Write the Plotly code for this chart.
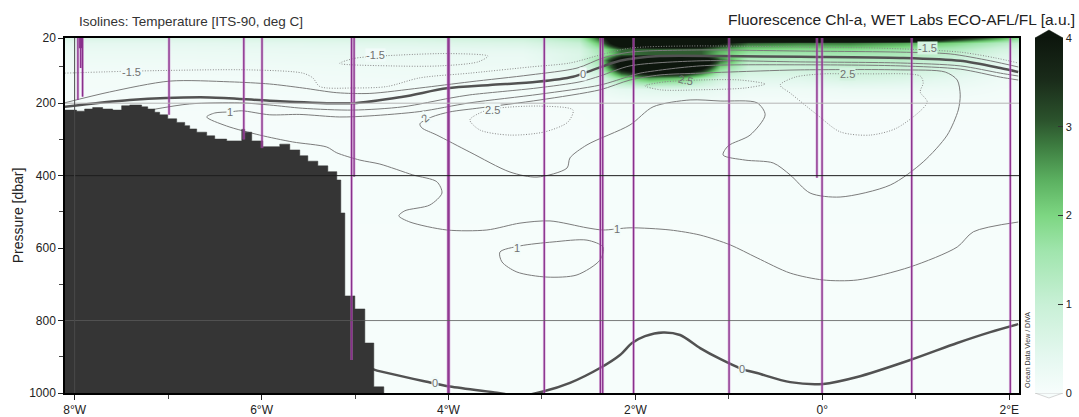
import plotly.graph_objects as go

# ---------------- data ----------------
# Fluorescence Chl-a field [a.u.] on a coarse section grid
FL_LON = [-8.1, -6.7, -4.5, -3.2, -2.6, -2.4, -2.15, -1.85, -1.5, -1.3, -1.1, -0.8, -0.25, 0.3, 0.85, 1.4, 1.9, 2.1]
FL_P = [20, 35, 50, 65, 80, 100, 130, 160, 200, 300, 1000]
FL_Z = [
    [0.60, 0.60, 0.70, 0.90, 1.40, 3.00, 6.00, 7.00, 7.00, 7.00, 7.00, 7.00, 7.00, 7.00, 6.50, 4.00, 2.50, 1.80],
    [0.40, 0.40, 0.50, 0.60, 1.00, 2.20, 5.50, 6.00, 6.00, 5.50, 4.00, 3.00, 2.80, 2.80, 2.50, 2.00, 1.30, 1.00],
    [0.30, 0.30, 0.35, 0.40, 0.70, 1.50, 3.00, 3.00, 3.00, 3.00, 2.50, 2.00, 1.90, 1.90, 1.70, 1.40, 0.80, 0.60],
    [0.25, 0.25, 0.30, 0.30, 0.60, 1.30, 2.80, 3.00, 3.00, 3.00, 2.20, 1.60, 1.50, 1.50, 1.40, 1.10, 0.60, 0.50],
    [0.20, 0.20, 0.25, 0.25, 0.60, 1.60, 5.00, 6.50, 6.50, 5.50, 3.00, 1.30, 1.20, 1.30, 1.20, 0.90, 0.45, 0.35],
    [0.15, 0.15, 0.20, 0.20, 0.50, 1.20, 4.50, 6.00, 6.00, 4.50, 2.00, 0.90, 0.90, 1.10, 1.00, 0.70, 0.35, 0.25],
    [0.10, 0.10, 0.15, 0.15, 0.30, 0.50, 1.80, 2.50, 2.20, 1.50, 0.80, 0.50, 0.50, 0.70, 0.60, 0.40, 0.20, 0.15],
    [0.08, 0.08, 0.10, 0.10, 0.15, 0.25, 0.40, 0.50, 0.50, 0.40, 0.30, 0.20, 0.20, 0.25, 0.25, 0.20, 0.12, 0.10],
    [0.06, 0.06, 0.06, 0.06, 0.06, 0.08, 0.10, 0.10, 0.10, 0.10, 0.08, 0.06, 0.06, 0.06, 0.06, 0.06, 0.06, 0.06],
    [0.04] * 18,
    [0.02] * 18,
]

# Bottom topography: left edge of each step [deg lon] and its top [dbar]
BATHY_LON = [-8.12, -7.979, -7.893, -7.807, -7.700, -7.593, -7.497, -7.411, -7.283, -7.218, -7.143,
             -7.090, -7.004, -6.908, -6.822, -6.769, -6.694, -6.587, -6.501, -6.373, -6.212, -6.180,
             -6.105, -5.987, -5.805, -5.698, -5.591, -5.505, -5.398, -5.291, -5.195, -5.152, -5.109,
             -5.002, -4.895, -4.799, -4.692]
BATHY_P = [219, 222, 216, 212, 216, 219, 207, 205, 210, 216, 225,
           232, 243, 253, 262, 271, 280, 290, 299, 304, 272, 280,
           304, 320, 313, 329, 345, 360, 373, 389, 412, 503, 732,
           768, 862, 983, 1000]

# CTD stations: longitude and deepest pressure of each cast
STATION_LON = [-7.965, -7.945, -7.935, -7.925, -7.915, -6.99, -6.19, -5.995, -5.037, -5.010,
               -4.005, -3.995, -2.975, -2.375, -2.350, -2.020, -0.998, -0.058, -0.003, 0.956, 2.011]
STATION_PMAX = [191, 48, 103, 48, 182, 232, 300, 324, 909, 403,
                1000, 1000, 1000, 1000, 1000, 1000, 1000, 406, 1000, 1000, 1000]

# Temperature isolines [deg C] traced from the section
ISO_M15_LON = [-8.107, -7.304, -6.126, -5.559, -5.452, -5.377, -5.023, -4.659, -4.306, -3.771, -3.128,
               -2.700, -2.379, -2.058, -1.415, -0.238, 0.619, 1.475, 1.850, 2.096]
ISO_M15_P = [117, 111, 108, 117, 130, 154, 158, 154, 130, 117, 100, 89, 67, 48, 42, 45, 48, 59, 75, 89]
ISO_M15_LOOP_LON = [-5.163, -5.002, -4.520, -3.985, -3.578, -3.685, -4.092, -4.627, -5.163]
ISO_M15_LOOP_P = [90, 76, 67, 63, 70, 86, 97, 97, 90]

ISO_M10_LON = [-8.107, -7.625, -6.983, -6.340, -5.912, -5.559, -5.195, -4.841, -4.306, -3.771, -3.128,
               -2.625, -2.347, -2.058, -1.308, -0.238, 0.833, 1.368, 1.797, 2.096]
ISO_M10_P = [199, 169, 139, 141, 147, 158, 171, 173, 158, 141, 122, 103, 75, 59, 53, 56, 59, 64, 83, 100]

ISO_0_LON = [-8.107, -7.411, -6.555, -5.912, -5.023, -4.488, -4.017, -3.557, -3.053, -2.668, -2.454,
             -2.165, -1.736, -1.094, -0.238, 0.833, 1.475, 1.904, 2.096]
ISO_0_P = [210, 191, 184, 193, 200, 182, 159, 150, 141, 127, 108, 83, 70, 70, 72, 75, 83, 103, 114]

ISO_0_DEEP_LON = [-4.863, -4.788, -4.231, -3.985, -3.482, -3.235, -2.989, -2.700, -2.379, -2.165, -2.036,
                  -1.897, -1.704, -1.522, -1.308, -1.094, -0.858, -0.698, -0.344, 0.009, 0.373, 0.940,
                  1.443, 1.797, 2.096]
ISO_0_DEEP_P = [928, 936, 969, 982, 999, 1008, 996, 972, 931, 895, 862, 843, 833, 840, 876, 906, 934,
                945, 970, 975, 956, 909, 862, 832, 810]

ISO_05_LON = [-7.197, -6.769, -6.233, -5.912, -5.559, -5.023, -4.488, -3.985, -3.771, -3.053, -2.593,
              -2.379, -2.058, -1.308, -0.238, 0.833, 1.475, 1.904, 2.096]
ISO_05_P = [219, 202, 199, 205, 214, 219, 210, 186, 177, 158, 141, 125, 97, 83, 86, 89, 97, 117, 125]

ISO_1_LON = [2.096, 1.615, 1.443, 0.940, 0.373, 0.009, -0.344, -0.698, -0.987, -1.308, -1.629, -2.058,
             -2.347, -2.518, -2.914, -3.235, -3.589, -4.017, -4.413, -4.531, -4.467, -4.199, -4.070,
             -4.124, -4.381, -4.734, -4.948, -5.195, -5.302, -5.666, -6.019, -6.373, -6.587,
             -6.501, -6.340, -6.212, -5.912, -5.591, -5.163, -4.841, -4.306, -3.771, -3.021, -2.379,
             -2.058, -1.950, -1.308, -0.238, 0.833, 1.475, 1.904, 2.096]
ISO_1_P = [528, 555, 597, 652, 688, 688, 669, 627, 591, 564, 550, 544,
           550, 544, 525, 531, 550, 550, 528, 511, 497, 481, 448,
           417, 398, 368, 357, 337, 321, 307, 288, 263, 238,
           227, 224, 221, 232, 231, 238, 235, 223, 199, 175, 150,
           125, 117, 97, 94, 97, 106, 128, 136]
ISO_1_LOOP_LON = [-3.450, -3.235, -2.882, -2.518, -2.347, -2.379, -2.625, -2.946, -3.268, -3.428, -3.450]
ISO_1_LOOP_P = [611, 594, 583, 578, 597, 633, 674, 680, 666, 638, 611]

ISO_2_LON = [-4.306, -4.178, -3.985, -3.664, -3.021, -2.379, -2.058, -1.736, -1.308, -0.666, -0.238,
             0.833, 1.315, 1.443, 1.475, 1.454, 1.336, 1.079, 0.726, 0.190, -0.131, -0.344, -0.526,
             -0.826, -1.062, -1.008, -0.773, -0.612, -0.698, -1.094, -1.415, -1.811, -2.058, -2.518,
             -2.700, -2.732, -3.053, -3.342, -3.771, -4.124, -4.285, -4.306]
ISO_2_P = [257, 238, 224, 213, 191, 163, 136, 122, 117, 111, 108,
           108, 114, 136, 177, 219, 288, 362, 426, 459, 448, 398, 365,
           357, 343, 318, 288, 232, 199, 194, 191, 210, 260, 315,
           351, 379, 404, 390, 335, 288, 268, 257]

ISO_25_W_LON = [-3.771, -3.610, -3.450, -3.021, -2.668, -2.722, -2.968, -3.343, -3.664, -3.771]
ISO_25_W_P = [246, 221, 213, 208, 219, 252, 279, 288, 274, 246]
ISO_25_C_LON = [-1.897, -1.683, -1.308, -0.880, -0.612, -0.826, -1.308, -1.736, -1.897]
ISO_25_C_P = [152, 141, 136, 136, 147, 158, 163, 163, 152]
ISO_25_E_LON = [0.009, 0.266, 0.512, 1.047, 1.079, 1.047, 1.122, 0.801, 0.512, 0.190, -0.055, -0.344,
                -0.452, -0.291, 0.009]
ISO_25_E_P = [119, 119, 119, 125, 144, 169, 197, 268, 288, 279, 232, 172, 150, 128, 119]

X_TICK_LON = [-8, -6, -4, -2, 0, 2]
X_TICK_TEXT = ["8°W", "6°W", "4°W", "2°W", "0°", "2°E"]
Y_TICKS = [20, 200, 400, 600, 800, 1000]
Y_MINOR = [100, 300, 500, 700, 900]
CB_TICKS = [0, 1, 2, 3, 4]

# ---------------- styles ----------------
FONT = "Liberation Sans, Arial, sans-serif"
BG = "#f1fbf9"
COLORSCALE = [
    [0.00, "#f7fdfc"],
    [0.10, "#e5f8f0"],
    [0.25, "#c8f0d6"],
    [0.40, "#a0e5ad"],
    [0.50, "#7dd682"],
    [0.60, "#5bb060"],
    [0.70, "#3c7a3f"],
    [0.77, "#2b522c"],
    [0.88, "#1a2c1a"],
    [1.00, "#0d160d"],
]
THIN = dict(color="#7c7c7c", width=1.0)
THICK = dict(color="#525252", width=2.5)
DOTTED = dict(color="#8a8a8a", width=1.0, dash="1px,1.6px")

fig = go.Figure()

fig.add_trace(go.Heatmap(
    x=FL_LON, y=FL_P, z=FL_Z, zmin=0, zmax=4, zsmooth="best",
    colorscale=COLORSCALE, hoverinfo="skip",
    colorbar=dict(
        x=1.0168, xanchor="left", y=0.5, yanchor="middle",
        len=1.0, lenmode="fraction", thickness=28, thicknessmode="pixels",
        xpad=0, ypad=0, outlinewidth=0,
        tickvals=CB_TICKS, ticks="inside", ticklen=5, tickcolor="#333",
        tickfont=dict(family=FONT, size=11, color="#222"),
    ),
))

isolines = [
    (ISO_M15_LON, ISO_M15_P, DOTTED),
    (ISO_M15_LOOP_LON, ISO_M15_LOOP_P, DOTTED),
    (ISO_M10_LON, ISO_M10_P, THIN),
    (ISO_0_LON, ISO_0_P, THICK),
    (ISO_0_DEEP_LON, ISO_0_DEEP_P, THICK),
    (ISO_05_LON, ISO_05_P, THIN),
    (ISO_1_LON, ISO_1_P, THIN),
    (ISO_1_LOOP_LON, ISO_1_LOOP_P, THIN),
    (ISO_2_LON, ISO_2_P, THIN),
    (ISO_25_W_LON, ISO_25_W_P, DOTTED),
    (ISO_25_C_LON, ISO_25_C_P, DOTTED),
    (ISO_25_E_LON, ISO_25_E_P, DOTTED),
]
for lx, ly, st in isolines:
    fig.add_trace(go.Scatter(
        x=lx, y=ly, mode="lines", hoverinfo="skip", showlegend=False,
        line=dict(shape="spline", smoothing=0.8, **st),
    ))

# bathymetry
fig.add_trace(go.Scatter(
    x=BATHY_LON + [BATHY_LON[0]], y=BATHY_P + [1000],
    mode="lines", fill="toself", fillcolor="#353535",
    line=dict(color="#353535", width=0.5, shape="hv"),
    hoverinfo="skip", showlegend=False,
))

# station lines
sx, sy = [], []
for lon, pm in zip(STATION_LON, STATION_PMAX):
    sx += [lon, lon, None]
    sy += [20, pm, None]
fig.add_trace(go.Scatter(x=sx, y=sy, mode="lines", hoverinfo="skip", showlegend=False,
                         line=dict(color="rgba(200,120,200,0.5)", width=2.8)))
fig.add_trace(go.Scatter(x=sx, y=sy, mode="lines", hoverinfo="skip", showlegend=False,
                         line=dict(color="#88308b", width=1.3)))

# isoline labels (lon, p, text, background, angle)
LABELS = [
    (-7.39, 114, "-1.5", BG, 0), (-4.777, 67, "-1.5", BG, 0), (1.122, 48, "-1.5", "#d6f3e2", 0),
    (-2.561, 120, "0", BG, 0), (-4.146, 972, "0", BG, 0), (-0.858, 934, "0", BG, 0),
    (-6.340, 224, "1", BG, 0), (-2.197, 547, "1", BG, 0), (-3.268, 600, "1", BG, 0),
    (-4.253, 241, "2", BG, -40), (-3.525, 219, "2.5", BG, 0), (-1.469, 137, "2.5", None, 12),
    (0.266, 119, "2.5", "#d3f2df", 0),
]
annotations = []
for lon, p, txt, bg, ang in LABELS:
    a = dict(x=lon, y=p, xref="x", yref="y", text=txt, showarrow=False, textangle=ang,
             font=dict(family=FONT, size=11, color="#707070"), borderpad=0)
    if bg:
        a["bgcolor"] = bg
    annotations.append(a)

annotations += [
    dict(x=0.0126, y=1.046, xref="paper", yref="paper", xanchor="left", yanchor="middle",
         text="Isolines: Temperature [ITS-90, deg C]", showarrow=False,
         font=dict(family=FONT, size=13.5, color="#333")),
    dict(x=1.0608, y=1.052, xref="paper", yref="paper", xanchor="right", yanchor="middle",
         text="Fluorescence Chl-a, WET Labs ECO-AFL/FL [a.u.]", showarrow=False,
         font=dict(family=FONT, size=15.5, color="#222")),
    dict(x=1.0084, y=0.121, xref="paper", yref="paper", xanchor="center", yanchor="middle",
         text="Ocean Data View / DIVA", showarrow=False, textangle=-90,
         font=dict(family=FONT, size=7, color="#333")),
]

shapes = [
    dict(type="line", xref="paper", yref="y", x0=0, x1=1, y0=200, y1=200,
         line=dict(color="#b4b4b4", width=1), layer="above"),
    dict(type="line", xref="paper", yref="y", x0=0, x1=1, y0=400, y1=400,
         line=dict(color="#1e1e1e", width=1), layer="above"),
    dict(type="line", xref="paper", yref="y", x0=0, x1=1, y0=800, y1=800,
         line=dict(color="#5a5a5a", width=0.8), layer="above"),
    dict(type="line", xref="x", yref="paper", x0=-8, x1=-8, y0=0, y1=1,
         line=dict(color="#4a4a4a", width=1), layer="above"),
    # colour-bar end caps
    dict(type="path", xref="paper", yref="paper",
         path="M 1.0168 1 L 1.0314 1.0225 L 1.0461 1 Z",
         fillcolor="#0d160d", line=dict(color="#0d160d", width=0.5)),
    dict(type="path", xref="paper", yref="paper",
         path="M 1.0168 0 L 1.0314 -0.014 L 1.0461 0 Z",
         fillcolor="#f7fdfc", line=dict(color="#bbbbbb", width=0.6)),
]

fig.update_layout(
    width=1079, height=417,
    margin=dict(l=65, r=60, t=38, b=24, autoexpand=False),
    paper_bgcolor="white", plot_bgcolor=BG,
    font=dict(family=FONT, size=12, color="#222"),
    showlegend=False,
    annotations=annotations, shapes=shapes,
    xaxis=dict(
        range=[-8.103, 2.104], tickvals=X_TICK_LON, ticktext=X_TICK_TEXT,
        ticks="outside", ticklen=5, tickcolor="#222", showgrid=False, zeroline=False,
        showline=True, linecolor="black", linewidth=2, mirror=True,
        minor=dict(dtick=1, tick0=0, ticks="outside", ticklen=4, tickcolor="#444", showgrid=False),
        tickfont=dict(family=FONT, size=12, color="#222"),
    ),
    yaxis=dict(
        range=[1000, 20], tickvals=Y_TICKS,
        ticks="outside", ticklen=5, tickcolor="#222", showgrid=False, zeroline=False,
        showline=True, linecolor="black", linewidth=1.5, mirror=True,
        minor=dict(tickvals=Y_MINOR, ticks="outside", ticklen=4, tickcolor="#444", showgrid=False),
        tickfont=dict(family=FONT, size=12, color="#222"),
        title=dict(text="Pressure [dbar]", font=dict(family=FONT, size=14, color="#222"), standoff=2),
    ),
)

fig.write_html("out.html")
